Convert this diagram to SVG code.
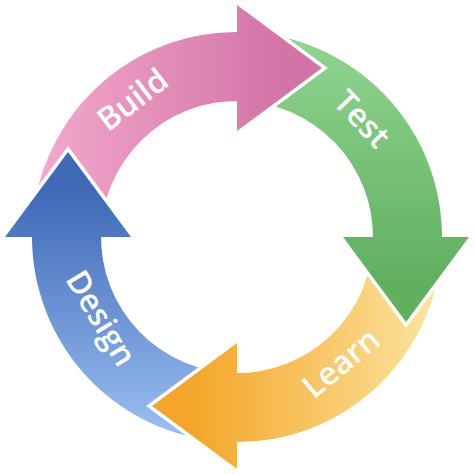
<svg xmlns="http://www.w3.org/2000/svg" xmlns:xlink="http://www.w3.org/1999/xlink" width="474" height="474" viewBox="0 0 474 474">
  <style>
    .lbl { font-family: "Open Sans", "Liberation Sans", sans-serif; font-weight: 600; font-size: 32px; fill: #ffffff; text-anchor: middle; }
  </style>
  <defs>
    <path id="band" d="M32,237 A205,205 0 0 1 244.154,32.125 L241.746,101.083 A136,136 0 0 0 101,237 Z"/>
    <polygon id="head" points="237,5 322,68 237,131"/>
    <mask id="cut" maskUnits="userSpaceOnUse" x="-50" y="-50" width="574" height="574">
      <rect x="-50" y="-50" width="574" height="574" fill="#fff"/>
      <polygon points="5,237 68,152 131,237" fill="#000" stroke="#000" stroke-width="7" stroke-linejoin="miter"/>
    </mask>
    <linearGradient id="gPink" gradientUnits="userSpaceOnUse" x1="40" y1="0" x2="280" y2="0">
      <stop offset="0" stop-color="#F2A8CC"/>
      <stop offset="1" stop-color="#D374A7"/>
    </linearGradient>
    <linearGradient id="gGreen" gradientUnits="userSpaceOnUse" x1="40" y1="0" x2="280" y2="0">
      <stop offset="0" stop-color="#90D490"/>
      <stop offset="1" stop-color="#60B060"/>
    </linearGradient>
    <linearGradient id="gYellow" gradientUnits="userSpaceOnUse" x1="40" y1="0" x2="280" y2="0">
      <stop offset="0" stop-color="#FCE49E"/>
      <stop offset="1" stop-color="#F4A62A"/>
    </linearGradient>
    <linearGradient id="gBlue" gradientUnits="userSpaceOnUse" x1="40" y1="0" x2="280" y2="0">
      <stop offset="0" stop-color="#9ABEF1"/>
      <stop offset="1" stop-color="#3F6AB8"/>
    </linearGradient>
  </defs>
  <rect width="474" height="474" fill="#ffffff"/>

  <g id="build">
    <g>
      <use href="#band" fill="url(#gPink)" mask="url(#cut)"/>
      <use href="#head" fill="url(#gPink)"/>
    </g>
    <text class="lbl" transform="translate(132,99) rotate(-37.5)" y="12">Build</text>
  </g>

  <g id="test">
    <g transform="rotate(90 237 237)">
      <use href="#band" fill="url(#gGreen)" mask="url(#cut)"/>
      <use href="#head" fill="url(#gGreen)"/>
    </g>
    <text class="lbl" transform="translate(362,119) rotate(46.5)" y="11">Test</text>
  </g>

  <g id="learn">
    <g transform="rotate(180 237 237)">
      <use href="#band" fill="url(#gYellow)" mask="url(#cut)"/>
      <use href="#head" fill="url(#gYellow)"/>
    </g>
    <text class="lbl" transform="translate(341,363) rotate(-39.5)" y="11">Learn</text>
  </g>

  <g id="design">
    <g transform="rotate(270 237 237)">
      <use href="#band" fill="url(#gBlue)" mask="url(#cut)"/>
      <use href="#head" fill="url(#gBlue)"/>
    </g>
    <text class="lbl" transform="translate(98,320) rotate(59)" y="7.5">Design</text>
  </g>
</svg>
